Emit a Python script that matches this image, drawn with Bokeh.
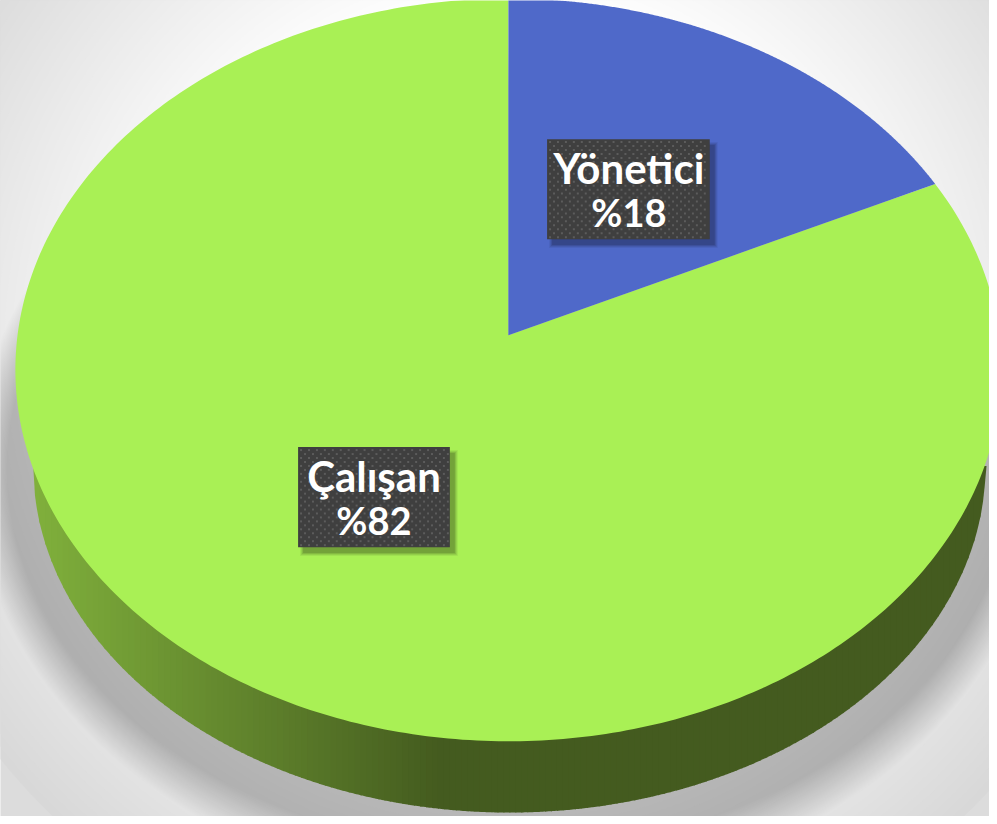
import numpy as np
from bokeh.embed import file_html
from bokeh.resources import INLINE
from bokeh.plotting import figure
from bokeh.models import Range1d
from bokeh.core.properties import value

categories = ["Yönetici", "Çalışan"]
shares = [18, 82]
share_labels = ["%18", "%82"]
slice_colors = ["#4F69C9", "#A9F055"]
text_x = [633.5, 376.5]
name_y = [169, 480]
pct_y = [214, 525]
box_left = [551, 300]
box_right = [715, 453]
box_top = [140, 451]
box_bottom = [241, 552]

# geometry of the tilted disc, in reference pixels
CX, CY, RX, RY = 512, 373, 497, 375
AX, AY = 512, 338
LCX, LCY, LRX, LRY = 513, 470, 480, 350

p = figure(width=989, height=816, output_backend="svg", toolbar_location=None,
           x_range=Range1d(0, 997), y_range=Range1d(824, 0),
           min_border=0, outline_line_color=None, background_fill_color="#dcdcdc",
           border_fill_color=None)
p.axis.visible = False
p.grid.visible = False


def hexgrey(v):
    v = int(round(max(0, min(255, v))))
    return f"#{v:02x}{v:02x}{v:02x}"


def ell(cx, cy, rx, ry, a0=0.0, a1=2 * np.pi, n=360):
    t = np.linspace(a0, a1, n)
    return cx + rx * np.sin(t), cy - ry * np.cos(t)


# background glow
for r in np.arange(660, 340, -8):
    x, y = ell(512, 350, r, r, n=180)
    p.patch(x, y, fill_color=hexgrey(255 - (r - 350) * 34 / 270), line_color=None)

# soft shadow under the disc
N = 28
for t in np.linspace(1, 0.45, N):
    x, y = ell(LCX, LCY + 6 * t, LRX + 60 * t, LRY + 78 * t)
    p.patch(x, y, fill_color="black", fill_alpha=0.18 / N, line_color=None)

# side wall, shaded from left to right
edges = np.arange(LCX - LRX, LCX + LRX, 6.0)
c0 = np.array([0x80, 0xB0, 0x3C])
c1 = np.array([0x44, 0x5B, 0x1F])
for e in edges:
    xs = np.linspace(e, e + 7, 5)
    ys = LCY + LRY * np.sqrt(np.clip(1 - ((xs - LCX) / LRX) ** 2, 0, 1))
    f = min(1.0, (e - (LCX - LRX)) / 410)
    c = (c0 + (c1 - c0) * f).astype(int)
    p.patch(np.r_[xs, xs[::-1]], np.r_[ys, np.full(5, LCY)],
            fill_color=f"#{c[0]:02x}{c[1]:02x}{c[2]:02x}", line_color=None)

# top of the disc: the slices start at 12 o'clock and turn clockwise
a_end = 2 * np.pi * shares[0] / sum(shares)
dx, dy = np.sin(a_end) * RX, -np.cos(a_end) * RY
ox, oy = (AX - CX) / RX, (AY - CY) / RY
ux, uy = dx / RX, dy / RY
A = ux * ux + uy * uy
B = 2 * (ox * ux + oy * uy)
C = ox * ox + oy * oy - 1
s = (-B + np.sqrt(B * B - 4 * A * C)) / (2 * A)
ex, ey = ox + s * ux, oy + s * uy
t_end = np.arctan2(ex, -ey)
x, y = ell(CX, CY, RX, RY, t_end, 2 * np.pi)
p.patch(np.r_[AX, x], np.r_[AY, y], fill_color=slice_colors[1], line_color=None)
x, y = ell(CX, CY, RX, RY, 0, t_end)
p.patch(np.r_[AX, x], np.r_[AY, y], fill_color=slice_colors[0], line_color=None)

# label boxes
for grow, al in [(3, 0.06), (2, 0.08), (1, 0.10), (0, 0.12)]:
    p.quad(left=[l + 5 - grow for l in box_left], right=[r + 5 + grow for r in box_right],
           top=[t + 6 - grow for t in box_top], bottom=[b + 6 + grow for b in box_bottom],
           fill_color="black", fill_alpha=al, line_color=None)
p.quad(left=box_left, right=box_right, top=box_top, bottom=box_bottom,
       fill_color="#3F3F3F", line_color=None)
# dotted texture of the boxes
dot_x, dot_y = [], []
for l, r, t, b in zip(box_left, box_right, box_top, box_bottom):
    for k, yy in enumerate(np.arange(t + 3, b - 1, 4.0)):
        for xx in np.arange(l + 3 + (k % 2) * 4, r - 1, 8.0):
            dot_x.append(xx)
            dot_y.append(yy)
p.scatter(dot_x, dot_y, marker="square", size=2, fill_color="#5C5C5C", line_color=None)

p.text(x=text_x, y=name_y, text=categories, text_color="white", text_font=value("Lato"),
       text_font_style="bold", text_font_size="42px", text_align="center",
       text_baseline="middle")
p.text(x=text_x, y=pct_y, text=share_labels, text_color="white", text_font=value("Lato"),
       text_font_style="bold", text_font_size="38px", text_align="center",
       text_baseline="middle")

open("out.html", "w").write(file_html(p, INLINE))
